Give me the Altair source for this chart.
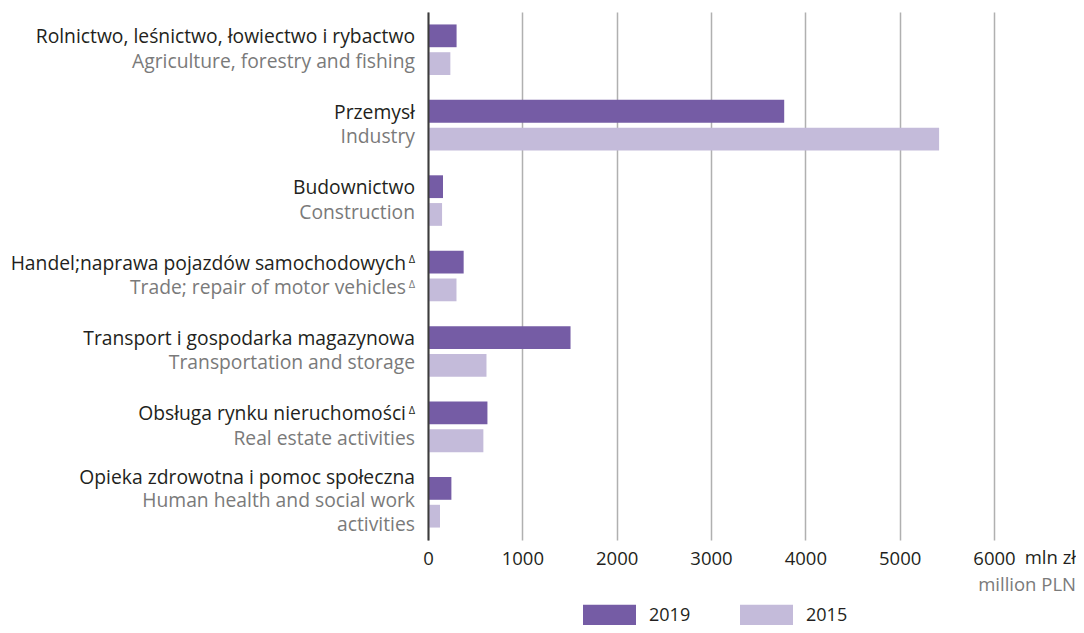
import altair as alt
import pandas as pd

# ---- data ----
sectors_pl = [
    "Rolnictwo, leśnictwo, łowiectwo i rybactwo",
    "Przemysł",
    "Budownictwo",
    "Handel;naprawa pojazdów samochodowych",
    "Transport i gospodarka magazynowa",
    "Obsługa rynku nieruchomości",
    "Opieka zdrowotna i pomoc społeczna",
]
sectors_en = [
    "Agriculture, forestry and fishing",
    "Industry",
    "Construction",
    "Trade; repair of motor vehicles",
    "Transportation and storage",
    "Real estate activities",
    "Human health and social work\nactivities",
]
note_pl = ["", "", "", "Δ", "", "Δ", ""]
note_en = ["", "", "", "Δ", "", "", ""]
years = ["2019", "2015"]
values_2019 = [303, 3776, 159, 378, 1511, 630, 248]
values_2015 = [237, 5418, 149, 302, 620, 587, 127]
x_ticks = [0, 1000, 2000, 3000, 4000, 5000, 6000]
unit_pl = "mln zł"
unit_en = "million PLN"

# ---- style ----
FONT = "Open Sans"
C2019 = "#755ca5"
C2015 = "#c4bbda"
DARK = "#231f20"
GREY = "#7a7a7a"
LFS = 19.3   # category label font size
TFS = 18.5   # tick / unit font size
W, H = 566, 528

bars_df = pd.DataFrame({
    "sector": sectors_pl * 2,
    "year": [years[0]] * len(sectors_pl) + [years[1]] * len(sectors_pl),
    "value": values_2019 + values_2015,
})

labels_df = pd.DataFrame({
    "sector": sectors_pl,
    "pl_text": sectors_pl,
    "en_text": sectors_en,
    "note_pl": note_pl,
    "note_en": note_en,
    "n_lines": [len(e.split("\n")) for e in sectors_en],
})

y_axis = alt.Axis(labels=False, ticks=False, title=None, domain=True,
                  domainColor="#3c3c3c", domainWidth=2, grid=False, zindex=1)
y_enc = alt.Y("sector:N", sort=sectors_pl,
              scale=alt.Scale(paddingInner=0.33, paddingOuter=0.165),
              axis=y_axis)

bars = alt.Chart(bars_df).mark_bar().encode(
    x=alt.X("value:Q", scale=alt.Scale(domain=[0, 6000], nice=False),
            axis=alt.Axis(values=x_ticks, grid=True, gridColor="#b0b0b0",
                          gridWidth=1.5, domain=False, ticks=False,
                          labelFontSize=TFS, labelFont=FONT, labelColor=DARK,
                          labelPadding=9, labelFlush=False, title=None,
                          format="d")),
    y=y_enc,
    yOffset=alt.YOffset("year:N", sort=years,
                        scale=alt.Scale(paddingInner=0.18, paddingOuter=0)),
    color=alt.Color("year:N", sort=years,
                    scale=alt.Scale(domain=years, range=[C2019, C2015]),
                    legend=alt.Legend(title=None, orient="none", legendX=155,
                                      legendY=577, direction="horizontal",
                                      symbolType="M-1,-0.415H1V0.415H-1Z",
                                      symbolSize=2809, symbolStrokeWidth=0,
                                      symbolOpacity=1,
                                      labelFontSize=18, labelFont=FONT,
                                      labelColor=DARK, labelOffset=13,
                                      columnPadding=49, padding=0)),
)

base = alt.Chart(labels_df).encode(y=y_enc)
one = base.transform_filter("datum.n_lines == 1")
two = base.transform_filter("datum.n_lines == 2")


def txt(src, field, color, dy, x=-13, size=LFS, lh=23.5):
    return src.mark_text(align="right", baseline="middle", lineBreak="\n",
                         lineHeight=lh, fontSize=size, font=FONT, color=color,
                         dy=dy).encode(x=alt.value(x), text=f"{field}:N")


PL_DY, EN_DY = -12.5, 12
layers = [
    bars,
    txt(one.transform_filter("datum.note_pl == ''"), "pl_text", DARK, PL_DY),
    txt(one.transform_filter("datum.note_pl != ''"), "pl_text", DARK, PL_DY, x=-22),
    txt(one.transform_filter("datum.note_en == ''"), "en_text", GREY, EN_DY),
    txt(one.transform_filter("datum.note_en != ''"), "en_text", GREY, EN_DY, x=-22),
    txt(two, "pl_text", DARK, -24.5),
    txt(two, "en_text", GREY, -1),
    txt(one.transform_filter("datum.note_pl != ''"), "note_pl", DARK, PL_DY - 3.5, size=11),
    txt(one.transform_filter("datum.note_en != ''"), "note_en", GREY, EN_DY - 3.5, size=11),
]

units_df = pd.DataFrame({"pl": [unit_pl], "en": [unit_en]})
layers.append(alt.Chart(units_df).mark_text(align="right", baseline="middle",
                                            fontSize=TFS, font=FONT, color=DARK).encode(
    x=alt.value(648), y=alt.value(546), text="pl:N"))
layers.append(alt.Chart(units_df).mark_text(align="right", baseline="middle",
                                            fontSize=TFS, font=FONT, color=GREY).encode(
    x=alt.value(648), y=alt.value(573), text="en:N"))

chart = alt.layer(*layers).properties(
    width=W, height=H, autosize="none",
    padding={"left": 420, "top": 4, "right": 82, "bottom": 85},
).configure_view(stroke=None)

chart.save("out.html", embed_options={"renderer": "svg", "actions": False})
